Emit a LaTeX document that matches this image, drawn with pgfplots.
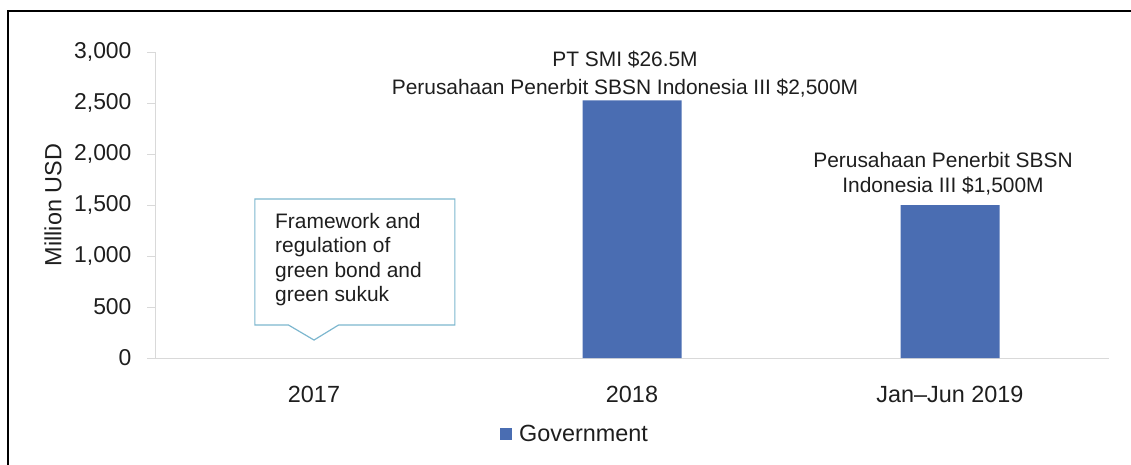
\documentclass[border=0pt]{standalone}
\usepackage{pgfplots}
\pgfplotsset{compat=1.18}
\usepackage{fontspec}
\setmainfont{Liberation Sans}
\definecolor{barblue}{RGB}{74,109,178}
\definecolor{callout}{RGB}{125,183,207}
\definecolor{axgray}{RGB}{217,217,217}
\definecolor{txt}{RGB}{30,30,30}
\begin{document}
\begin{tikzpicture}
\path[use as bounding box] (0,0) rectangle (1131bp,-465bp);
\draw[black, line width=1.5bp] (8bp,-465bp) -- (8bp,-11bp) -- (1131bp,-11bp);
\begin{axis}[
  at={(155bp,-358bp)}, anchor=south west,
  scale only axis, width=954bp, height=306bp,
  xmin=-0.5, xmax=2.5, ymin=0, ymax=3000,
  axis x line*=bottom, axis y line*=left,
  axis line style={axgray, line width=1bp},
  xtick={0,1,2}, xticklabels={2017,2018,Jan--Jun 2019},
  x tick style={draw=none},
  ytick={0,500,1000,1500,2000,2500,3000},
  y tick style={axgray, line width=1bp},
  tick align=outside, major tick length=8bp,
  /pgf/number format/assume math mode=true,
  yticklabel style={/pgf/number format/1000 sep={,}, font=\fontsize{23}{23}\selectfont, text=txt, xshift=-12bp},
  xticklabel style={font=\fontsize{23.5}{23.5}\selectfont, text=txt, anchor=base, yshift=-36bp},
  ylabel={Million USD},
  ylabel style={font=\fontsize{23.5}{23.5}\selectfont, text=txt, at={(axis description cs:-0.1069,0.5)}, anchor=center},
  legend style={at={(axis description cs:0.3616,-0.248)}, anchor=west, draw=none, fill=none, inner sep=0pt,
    font=\fontsize{23.5}{23.5}\selectfont, text=txt},
  legend image code/.code={\fill[barblue] (0bp,-6bp) rectangle (12bp,6bp); \path (17bp,0bp);},
  clip=false,
]
\addplot[ybar, bar width=99bp, fill=barblue, draw=none] coordinates {(1,2526.5) (2,1500)};
\addlegendentry{Government}
% callout
\draw[callout, line width=1.2bp, fill=white]
  (axis cs:-0.186,1559) -- (axis cs:0.443,1559) -- (axis cs:0.443,323)
  -- (axis cs:0.077,323) -- (axis cs:0,176) -- (axis cs:-0.08,323)
  -- (axis cs:-0.186,323) -- cycle;
\node[anchor=north west, align=left, inner sep=0pt, text=txt, font=\fontsize{21}{24.7}\selectfont]
  at (axis cs:-0.1226,1425) {Framework and\\regulation of\\green bond and\\green sukuk};
% labels
\node[anchor=base, inner sep=0pt, text=txt, font=\fontsize{21}{21}\selectfont] at (axis cs:0.978,2856) {PT SMI \$26.5M};
\node[anchor=base, inner sep=0pt, text=txt, font=\fontsize{21}{21}\selectfont] at (axis cs:0.978,2588) {Perusahaan Penerbit SBSN Indonesia III \$2,500M};
\node[anchor=base, inner sep=0pt, text=txt, font=\fontsize{21}{21}\selectfont] at (axis cs:1.978,1863) {Perusahaan Penerbit SBSN};
\node[anchor=base, inner sep=0pt, text=txt, font=\fontsize{21}{21}\selectfont] at (axis cs:1.978,1618) {Indonesia III \$1,500M};
\end{axis}
\end{tikzpicture}
\end{document}
